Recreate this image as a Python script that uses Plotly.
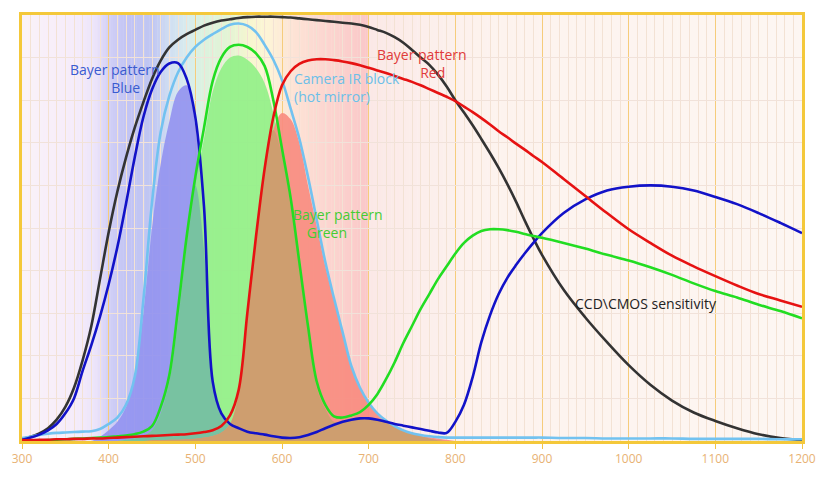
import numpy as np
import plotly.graph_objects as go

# Wavelength grid (nm)
wavelength = list(range(300, 901, 10)) + list(range(925, 1201, 25))

# Relative response curves (0..1)
ccd_cmos = [
    0.005, 0.01, 0.018, 0.03, 0.05, 0.08, 0.125, 0.19, 0.27, 0.38,
    0.49, 0.585, 0.665, 0.735, 0.795, 0.85, 0.893, 0.924, 0.942, 0.955,
    0.965, 0.975, 0.982, 0.987, 0.99, 0.993, 0.995, 0.996, 0.996, 0.996,
    0.995, 0.994, 0.992, 0.99, 0.988, 0.986, 0.984, 0.982, 0.98, 0.977,
    0.972, 0.965, 0.958, 0.948, 0.935, 0.918, 0.90, 0.883, 0.86, 0.832,
    0.80, 0.771, 0.741, 0.709, 0.676, 0.641, 0.603, 0.562, 0.518, 0.476,
    0.437,
    0.355, 0.29, 0.232, 0.178, 0.132, 0.095, 0.067, 0.047, 0.03, 0.016,
    0.007, 0.002,
]
bayer_blue = [
    0.003, 0.008, 0.015, 0.025, 0.04, 0.065, 0.10, 0.165, 0.225, 0.292,
    0.368, 0.455, 0.557, 0.665, 0.76, 0.825, 0.866, 0.886, 0.887, 0.85,
    0.76, 0.55, 0.14, 0.065, 0.04, 0.03, 0.022, 0.018, 0.015, 0.011,
    0.008, 0.007, 0.009, 0.014, 0.021, 0.03, 0.038, 0.045, 0.05, 0.053,
    0.053, 0.05, 0.045, 0.04, 0.036, 0.032, 0.028, 0.024, 0.02, 0.019,
    0.045, 0.085, 0.15, 0.232, 0.295, 0.345, 0.383, 0.413, 0.44, 0.465,
    0.488,
    0.535, 0.567, 0.588, 0.597, 0.60, 0.597, 0.588, 0.573, 0.556, 0.535,
    0.512, 0.488,
]
bayer_green = [
    0.0, 0.0, 0.001, 0.002, 0.003, 0.004, 0.005, 0.006, 0.007, 0.008,
    0.009, 0.011, 0.013, 0.016, 0.022, 0.035, 0.08, 0.155, 0.31, 0.48,
    0.62, 0.735, 0.845, 0.90, 0.925, 0.93, 0.925, 0.91, 0.88, 0.80,
    0.686, 0.57, 0.42, 0.27, 0.14, 0.085, 0.058, 0.055, 0.06, 0.068,
    0.085, 0.11, 0.145, 0.185, 0.23, 0.27, 0.31, 0.345, 0.38, 0.41,
    0.44, 0.465, 0.482, 0.493, 0.497, 0.497, 0.495, 0.491, 0.486, 0.481,
    0.477,
    0.465, 0.452, 0.437, 0.424, 0.408, 0.39, 0.37, 0.352, 0.337, 0.32,
    0.305, 0.288,
]
bayer_red = [
    0.002, 0.002, 0.003, 0.003, 0.004, 0.004, 0.005, 0.005, 0.006, 0.006,
    0.007, 0.008, 0.009, 0.01, 0.011, 0.012, 0.013, 0.014, 0.015, 0.016,
    0.018, 0.021, 0.025, 0.035, 0.06, 0.12, 0.30, 0.48, 0.64, 0.76,
    0.835, 0.868, 0.885, 0.893, 0.896, 0.896, 0.894, 0.891, 0.887, 0.882,
    0.876, 0.87, 0.864, 0.857, 0.85, 0.843, 0.835, 0.826, 0.817, 0.808,
    0.798, 0.785, 0.772, 0.758, 0.743, 0.727, 0.713, 0.698, 0.684, 0.669,
    0.655,
    0.615, 0.575, 0.535, 0.497, 0.465, 0.435, 0.41, 0.387, 0.365, 0.345,
    0.33, 0.315,
]
ir_block = [
    0.007, 0.01, 0.014, 0.017, 0.019, 0.02, 0.021, 0.022, 0.023, 0.028,
    0.04, 0.055, 0.085, 0.15, 0.33, 0.56, 0.725, 0.81, 0.865, 0.90,
    0.925, 0.942, 0.955, 0.967, 0.977, 0.98, 0.975, 0.96, 0.93, 0.895,
    0.847, 0.78, 0.71, 0.62, 0.52, 0.42, 0.335, 0.255, 0.176, 0.125,
    0.09, 0.065, 0.048, 0.035, 0.025, 0.018, 0.014, 0.011, 0.009, 0.008,
    0.008, 0.008, 0.008, 0.008, 0.008, 0.008, 0.008, 0.008, 0.008, 0.008,
    0.008,
    0.007, 0.007, 0.006, 0.006, 0.006, 0.006, 0.005, 0.005, 0.005, 0.005,
    0.004, 0.004,
]

# Effective channel responses (filled areas)
fill_wavelength = list(range(300, 801, 10))
blue_channel = [
    0, 0, 0, 0, 0, 0, 0, 0, 0, 0.01,
    0.025, 0.045, 0.08, 0.15, 0.30, 0.50, 0.65, 0.75, 0.82, 0.835,
    0.74, 0.45, 0.13, 0.06, 0.035, 0.025, 0.02, 0.017, 0.014, 0.01,
    0.007, 0.005, 0.004, 0.004, 0.004, 0.004, 0.003, 0.003, 0.003, 0.002,
    0.002, 0.001, 0, 0, 0, 0, 0, 0, 0, 0,
    0,
]
green_channel = [
    0, 0, 0, 0, 0, 0, 0, 0, 0, 0,
    0, 0, 0.003, 0.006, 0.012, 0.025, 0.065, 0.14, 0.28, 0.46,
    0.60, 0.71, 0.82, 0.875, 0.90, 0.905, 0.895, 0.875, 0.84, 0.77,
    0.67, 0.55, 0.41, 0.255, 0.125, 0.075, 0.045, 0.045, 0.05, 0.053,
    0.053, 0.05, 0.045, 0.035, 0.025, 0.018, 0.012, 0.006, 0.002, 0,
    0,
]
red_channel = [
    0, 0, 0, 0, 0, 0, 0, 0, 0, 0,
    0, 0, 0, 0, 0, 0.002, 0.002, 0.003, 0.003, 0.004,
    0.005, 0.008, 0.012, 0.02, 0.04, 0.11, 0.28, 0.47, 0.63, 0.73,
    0.77, 0.755, 0.70, 0.60, 0.505, 0.41, 0.33, 0.25, 0.172, 0.122,
    0.088, 0.062, 0.045, 0.033, 0.024, 0.017, 0.012, 0.009, 0.006, 0.003,
    0,
]

x_ticks = [300, 400, 500, 600, 700, 800, 900, 1000, 1100, 1200]

FONT = "Open Sans, Lato, sans-serif"
NB = "&nbsp;"

fig = go.Figure()

# Spectrum-tinted background bands
bg_stops = [
    (300, (250, 242, 248)), (360, (246, 236, 250)), (385, (236, 228, 250)),
    (400, (210, 208, 246)), (420, (194, 196, 244)), (450, (192, 198, 242)),
    (470, (208, 222, 242)), (490, (216, 236, 238)), (510, (220, 242, 222)),
    (540, (228, 244, 212)), (565, (248, 246, 208)), (585, (253, 244, 215)),
    (610, (253, 228, 214)), (650, (252, 214, 208)), (698, (250, 200, 200)),
    (700, (251, 232, 230)), (760, (252, 238, 235)), (850, (253, 243, 238)),
    (1200, (253, 246, 242)),
]
stop_x = np.array([s[0] for s in bg_stops], dtype=float)
stop_c = np.array([s[1] for s in bg_stops], dtype=float)
edges = np.arange(300, 1201, 3)
for a, b in zip(edges[:-1], edges[1:]):
    m = (a + b) / 2
    c = [int(round(np.interp(m, stop_x, stop_c[:, k]))) for k in range(3)]
    fig.add_shape(type="rect", xref="x", yref="y", x0=a, x1=b + 0.5, y0=0, y1=1,
                  fillcolor=f"rgb({c[0]},{c[1]},{c[2]})", line_width=0, layer="below")


def area(xs, ys, color):
    fig.add_trace(go.Scatter(x=xs, y=ys, mode="lines",
                             line=dict(width=0, shape="spline", smoothing=1.0),
                             fill="tozeroy", fillcolor=color, hoverinfo="skip", showlegend=False))


bf = np.array(blue_channel)
gf = np.array(green_channel)
rf = np.array(red_channel)

area(fill_wavelength, blue_channel, "rgba(148,148,240,0.92)")
area(fill_wavelength, green_channel, "rgba(146,240,136,0.92)")
area(fill_wavelength, np.minimum(bf, gf), "rgba(118,192,162,0.95)")
area(fill_wavelength, red_channel, "rgba(248,140,128,0.92)")
area(fill_wavelength, np.minimum(rf, gf), "rgba(204,158,110,0.96)")


def curve(ys, color):
    fig.add_trace(go.Scatter(x=wavelength, y=ys, mode="lines",
                             line=dict(color=color, width=2.6, shape="spline", smoothing=1.0),
                             hoverinfo="skip", showlegend=False))


curve(ccd_cmos, "#333333")
curve(ir_block, "#72c2f0")
curve(bayer_blue, "#1212c8")
curve(bayer_green, "#22dd22")
curve(bayer_red, "#e61212")

# (text, x, y, colour, horizontal anchor)
labels = [
    ("Bayer pattern<br>" + NB * 6 + "Blue", 407, 0.850, "#3a5bd0", "center"),
    ("Camera IR block<br>(hot mirror)", 614, 0.830, "#6cbfe8", "left"),
    ("Bayer pattern<br>" + NB * 6 + "Red", 761, 0.886, "#e03a3a", "center"),
    ("Bayer pattern<br>Green" + NB * 6, 665, 0.510, "#44cc33", "center"),
    ("CCD\\CMOS sensitivity", 1020, 0.323, "#222222", "center"),
]
for text, lx, ly, col, anchor in labels:
    fig.add_annotation(x=lx, y=ly, xref="x", yref="y", text=text, showarrow=False,
                       xanchor=anchor, align=anchor, xshift=-2 if anchor == "left" else 0,
                       font=dict(family=FONT, size=14, color=col))

fig.update_layout(
    width=828, height=479,
    margin=dict(l=20, r=19, t=13, b=29),
    paper_bgcolor="white", plot_bgcolor="white",
    font=dict(family=FONT),
    xaxis=dict(range=[300, 1200], tickvals=x_ticks, ticks="outside", ticklen=5,
               tickcolor="#f2c44a", tickwidth=1,
               tickfont=dict(family=FONT, size=12, color="#e8b274"),
               showgrid=True, gridcolor="#f6cc7c", gridwidth=1,
               minor=dict(dtick=10, showgrid=True, gridcolor="#f3e2d4", gridwidth=1),
               showline=True, linecolor="#f4c83a", linewidth=3, mirror=True,
               zeroline=False, fixedrange=True),
    yaxis=dict(range=[0, 1], dtick=0.1, showticklabels=False, ticks="",
               showgrid=True, gridcolor="#f1e2da", gridwidth=1,
               showline=True, linecolor="#f4c83a", linewidth=3, mirror=True,
               zeroline=False, fixedrange=True),
)

fig.write_html("out.html")
